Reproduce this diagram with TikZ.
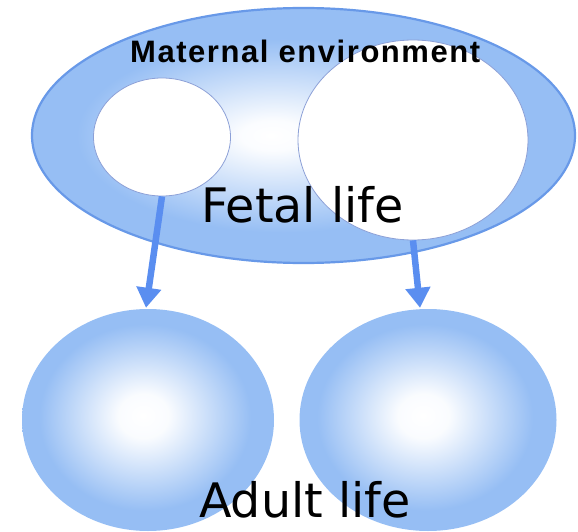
\documentclass[tikz,border=0pt]{standalone}
\usepackage{fontspec}
\setmainfont{DejaVu Sans}
\newfontfamily\labelfont{DejaVu Sans}
\newfontfamily\titlefont[LetterSpace=5]{Liberation Sans Bold}
\usetikzlibrary{shapes.geometric,arrows.meta,calc}
\definecolor{ringblue}{RGB}{150,190,244}
\definecolor{edgeblue}{RGB}{104,153,232}
\definecolor{innerline}{RGB}{140,160,215}
\definecolor{arrowblue}{RGB}{90,142,240}
\pgfdeclareradialshading{bigshade}{\pgfpoint{-3bp}{0bp}}{%
  color(0bp)=(white); color(3bp)=(white!96!ringblue); color(19bp)=(ringblue); color(25bp)=(ringblue); color(50bp)=(ringblue)}
\pgfdeclareradialshading{ballshade}{\pgfpoint{-1bp}{1bp}}{%
  color(0bp)=(white); color(5bp)=(white!95!ringblue); color(21bp)=(ringblue); color(25bp)=(ringblue); color(50bp)=(ringblue)}
\tikzset{
  envshape/.style={ellipse, draw=edgeblue, line width=2.2pt, shading=bigshade, inner sep=0pt},
  innershape/.style={ellipse, draw=innerline, line width=0.8pt, fill=white, inner sep=0pt},
  ballshape/.style={ellipse, shading=ballshade, inner sep=0pt},
  arr/.style={arrowblue, line width=6.5pt, -{Triangle[width=24pt,length=20pt]}},
  bigtext/.style={font=\labelfont\fontsize{47.5}{52}\selectfont, inner sep=0pt},
  toptext/.style={font=\titlefont\fontsize{31}{34}\selectfont, inner sep=0pt}
}
\begin{document}
\begin{tikzpicture}[x=1pt,y=-1pt]
\useasboundingbox (0,0) rectangle (578,532);
\node[envshape, minimum width=543pt, minimum height=255pt] (env) at (303.5,135.5) {};
\node[innershape, minimum width=137pt, minimum height=118pt] (lc) at (162,137) {};
\node[innershape, minimum width=230pt, minimum height=200pt] (rc) at (413,140) {};
\node[ballshape, minimum width=252pt, minimum height=222pt] (bl) at (148,420) {};
\node[ballshape, minimum width=257pt, minimum height=222pt] (br) at (428,420) {};
\draw[arr] (lc.south) -- ($(bl.north)+(-2,-1)$);
\draw[arr] (rc.south) -- ($(br.north)+(-8,-1)$);
\node[toptext, anchor=base west] (mat) at (130,63) {Maternal environment};
\node[bigtext, anchor=base west] (fetal) at (201,222) {Fetal life};
\node[bigtext, anchor=base west] (adult) at (199,517) {Adult life};
\end{tikzpicture}
\end{document}
